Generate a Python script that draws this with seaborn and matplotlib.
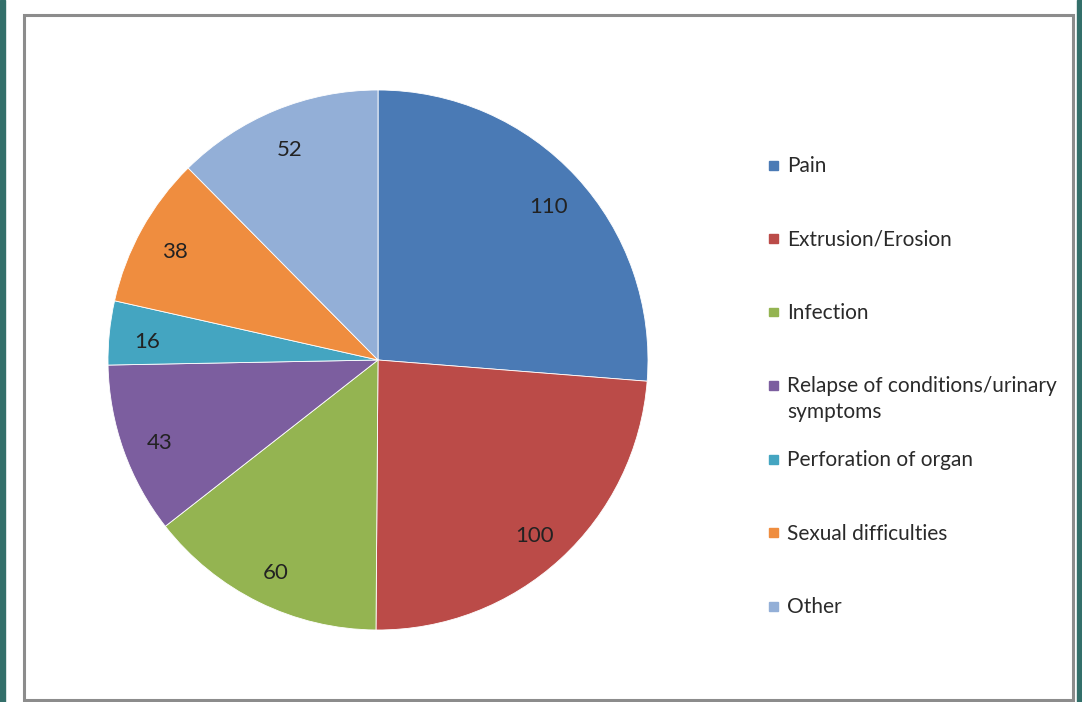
import matplotlib
matplotlib.use('Agg')
import matplotlib.pyplot as plt
from matplotlib.patches import Rectangle
import matplotlib.transforms as mtransforms
import seaborn as sns

sns.set_theme(style="white")
plt.rcParams['font.family'] = ['Lato', 'DejaVu Sans']

# data
categories = ['Pain', 'Extrusion/Erosion', 'Infection',
              'Relapse of conditions/urinary\nsymptoms', 'Perforation of organ',
              'Sexual difficulties', 'Other']
counts = [110, 100, 60, 43, 16, 38, 52]
colors = ['#4A7AB5', '#BB4B48', '#94B451', '#7C5E9F', '#44A5C1', '#EF8D3F', '#93AFD7']

W, H = 1082, 702
fig = plt.figure(figsize=(W / 100, H / 100), dpi=100)
fig.patch.set_facecolor('white')

# teal frame strips at the picture edges + gray chart border
fig.add_artist(Rectangle((0, 0), 5 / W, 1, transform=fig.transFigure, color='#336f6a', zorder=0))
fig.add_artist(Rectangle((1077 / W, 0), 5 / W, 1, transform=fig.transFigure, color='#336f6a', zorder=0))
fig.add_artist(Rectangle((24 / W, 2 / H), (1073 - 24) / W, (687 - 2) / H, transform=fig.transFigure,
                         facecolor='white', edgecolor='#8c8c8c', linewidth=2.2, zorder=0))

# pie: centre (378, 360), radius 270 px
ax = fig.add_axes([108 / W, (H - 630) / H, 540 / W, 540 / H])
wedges, texts = ax.pie(counts, colors=colors, startangle=90, counterclock=False,
                       labels=[str(c) for c in counts], labeldistance=0.86,
                       wedgeprops=dict(edgecolor='white', linewidth=0.6),
                       textprops=dict(fontsize=16, color='#222222'))
shift = mtransforms.offset_copy(ax.transData, fig=fig, x=0, y=-5, units='dots')
for t in texts:
    t.set_horizontalalignment('center')
    t.set_verticalalignment('center')
    t.set_transform(shift)
ax.set_xlim(-1, 1)
ax.set_ylim(-1, 1)
ax.set_aspect('equal')
ax.axis('off')

# legend, drawn by hand to keep Excel-like even spacing
for i, (lab, col) in enumerate(zip(categories, colors)):
    yc = 165 + i * 73.5
    fig.add_artist(Rectangle((769 / W, (H - yc - 4.5) / H), 9 / W, 9 / H,
                             transform=fig.transFigure, color=col))
    fig.text(787 / W, (H - yc + 9) / H, lab, ha='left', va='top',
             fontsize=15, color='#2a2a2a', linespacing=1.35)

fig.savefig('out.png', dpi=100)
